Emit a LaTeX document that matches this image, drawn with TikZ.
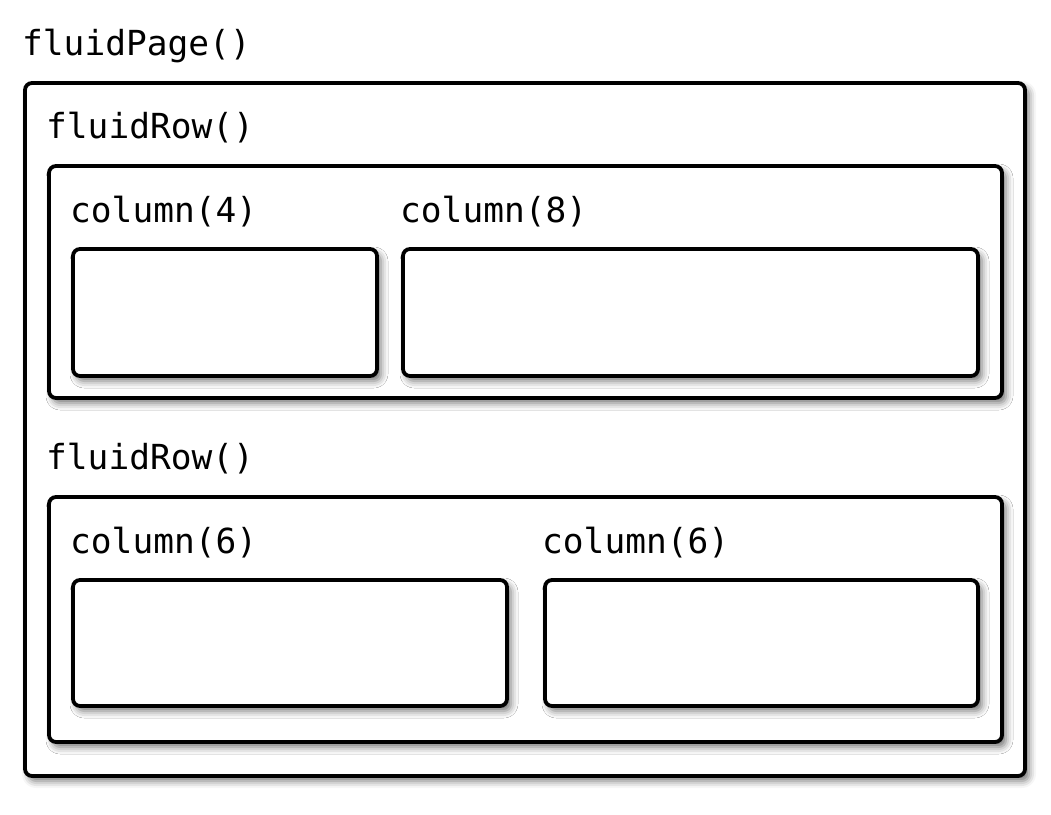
\documentclass[tikz,border=0pt]{standalone}
\usepackage{fontspec}
\setmonofont{DejaVu Sans Mono}
\usetikzlibrary{shadows.blur}
\newcommand{\codefont}{\ttfamily\fontsize{34.5}{41}\selectfont}
\begin{document}
\begin{tikzpicture}[x=1pt, y=-1pt,
    box/.style={draw, line width=3.8pt, rounded corners=7pt, fill=white,
      inner sep=0pt, outer sep=0pt, anchor=north west,
      blur shadow={shadow xshift=4pt, shadow yshift=-5pt,
        shadow blur radius=7pt, shadow opacity=55}},
    lbl/.style={anchor=base west, inner sep=0pt, font=\codefont}]
  \useasboundingbox (0,0) rectangle (1051,814);
  % page and rows
  \node (page) at (25,83)  [box, minimum width=1000pt, minimum height=693pt] {};
  \node (row1) at (49,166) [box, minimum width=953pt, minimum height=232pt] {};
  \node (row2) at (49,497) [box, minimum width=953pt, minimum height=245pt] {};
  % columns
  \node (colA) at (73,249)  [box, minimum width=304pt, minimum height=127pt] {};
  \node (colB) at (403,249) [box, minimum width=575pt, minimum height=127pt] {};
  \node (colC) at (73,580)  [box, minimum width=434pt, minimum height=126pt] {};
  \node (colD) at (545,580) [box, minimum width=433pt, minimum height=126pt] {};
  % labels
  \node (pageLbl) at ([shift={(-3pt,28pt)}]page.north west) [lbl] {fluidPage()};
  \node (row1Lbl) at ([shift={(-3pt,28pt)}]row1.north west) [lbl] {fluidRow()};
  \node (row2Lbl) at ([shift={(-3pt,28pt)}]row2.north west) [lbl] {fluidRow()};
  \node (colALbl) at ([shift={(-3pt,27pt)}]colA.north west) [lbl] {column(4)};
  \node (colBLbl) at ([shift={(-3pt,27pt)}]colB.north west) [lbl] {column(8)};
  \node (colCLbl) at ([shift={(-3pt,27pt)}]colC.north west) [lbl] {column(6)};
  \node (colDLbl) at ([shift={(-3pt,27pt)}]colD.north west) [lbl] {column(6)};
\end{tikzpicture}
\end{document}
